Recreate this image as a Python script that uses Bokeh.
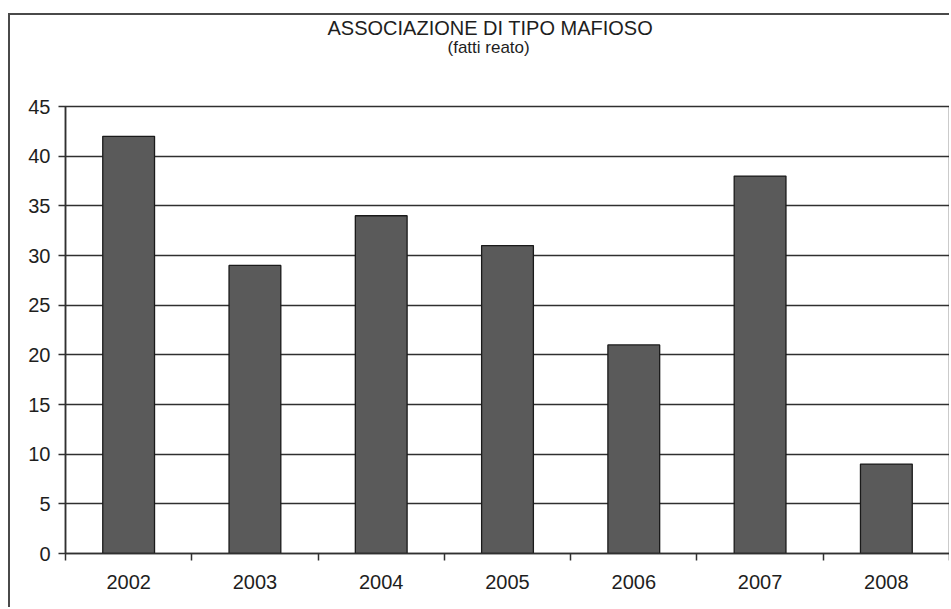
from bokeh.plotting import figure
from bokeh.models import Range1d, FixedTicker, Title, LinearAxis, Grid
from bokeh.embed import file_html
from bokeh.resources import INLINE

# ---- data ----
years = ["2002", "2003", "2004", "2005", "2006", "2007", "2008"]
counts = [42, 29, 34, 31, 21, 38, 9]
y_ticks = [0, 5, 10, 15, 20, 25, 30, 35, 40, 45]
title_line1 = "ASSOCIAZIONE DI TIPO MAFIOSO"
title_line2 = "(fatti reato)"

FONT = "Liberation Sans"
TXT = "#1e1e1e"
LINE = "#303030"

n = len(years)
xs = [i + 0.5 for i in range(n)]

p = figure(width=941, height=594, output_backend="svg", toolbar_location=None,
           x_range=Range1d(0, n), y_range=Range1d(0, 45),
           min_border_left=55, min_border_right=2, min_border_top=91, min_border_bottom=56,
           x_axis_type=None, y_axis_type=None, title=None)
# outer chart border (left and top visible, the rest is cut off in the original scan)
p.styles = {"margin-left": "8px", "margin-top": "13px",
            "border-left": "2px solid #4a4a4a", "border-top": "2px solid #4a4a4a"}
p.background_fill_color = "white"
p.border_fill_color = "white"
p.outline_line_color = LINE
p.outline_line_width = 1.5

# y axis
yax = LinearAxis(ticker=FixedTicker(ticks=y_ticks))
yax.axis_line_color = LINE
yax.axis_line_width = 1.5
yax.major_tick_line_color = LINE
yax.major_tick_line_width = 1.5
yax.major_tick_out = 7
yax.major_tick_in = 0
yax.minor_tick_line_color = None
yax.major_label_text_font = FONT
yax.major_label_text_font_size = "20px"
yax.major_label_text_color = TXT
yax.major_label_standoff = 8
p.add_layout(yax, "left")

# x axis: labels at category centres, ticks at boundaries
xax = LinearAxis(ticker=FixedTicker(ticks=xs, minor_ticks=list(range(n + 1))))
xax.major_label_overrides = {x: y for x, y in zip(xs, years)}
xax.axis_line_color = LINE
xax.axis_line_width = 1.5
xax.major_tick_line_color = None
xax.major_tick_out = 0
xax.major_tick_in = 0
xax.minor_tick_line_color = LINE
xax.minor_tick_line_width = 1.5
xax.minor_tick_out = 7
xax.minor_tick_in = 0
xax.major_label_text_font = FONT
xax.major_label_text_font_size = "20px"
xax.major_label_text_color = TXT
xax.major_label_standoff = 14
p.add_layout(xax, "below")

# horizontal gridlines
grid = Grid(dimension=1, ticker=FixedTicker(ticks=y_ticks),
            grid_line_color=LINE, grid_line_width=1.5)
p.add_layout(grid)

# bars
p.vbar(x=xs, top=counts, width=0.41, bottom=0,
       fill_color="#5a5a5a", line_color="#1a1a1a", line_width=1.3)

# titles (closest to the frame first)
p.add_layout(Title(text=" ", text_font_size="43px", standoff=0), "above")
p.add_layout(Title(text=title_line2, align="left", offset=382, standoff=0,
                   text_font=FONT, text_font_size="17px", text_font_style="normal",
                   text_color=TXT), "above")
p.add_layout(Title(text=title_line1, align="left", offset=262, standoff=-6,
                   text_font=FONT, text_font_size="20px", text_font_style="normal",
                   text_color=TXT), "above")

open("out.html", "w").write(file_html(p, INLINE))
